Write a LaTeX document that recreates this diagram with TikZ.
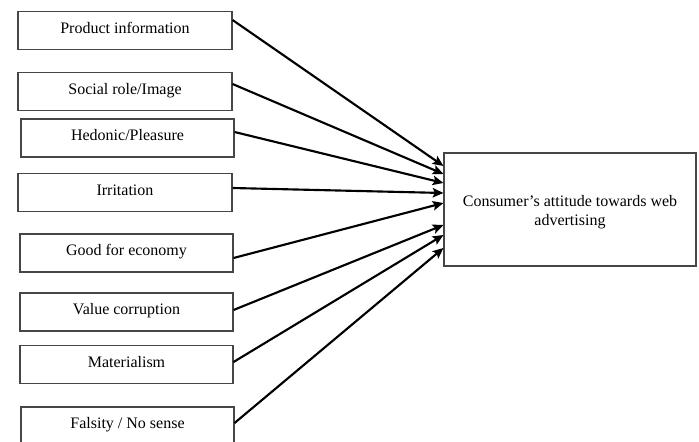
\documentclass[tikz,border=0pt]{standalone}
\usepackage{fontspec}
\setmainfont{Liberation Serif}
\usetikzlibrary{calc,arrows.meta}
\definecolor{boxline}{RGB}{70,70,70}
\tikzset{
  factor/.style={draw=boxline, line width=0.8pt, rectangle, inner sep=0pt,
    minimum width=160.5pt, minimum height=28pt,
    text height=8.6pt, text depth=4.8pt,
    font=\fontsize{12}{14}\selectfont},
  target/.style={draw=boxline, line width=0.8pt, rectangle, inner sep=0pt,
    minimum width=189pt, minimum height=84.75pt, align=center,
    font=\fontsize{12}{14.3}\selectfont},
  link/.style={line width=1.6pt, -{Stealth[length=8pt,width=7pt,inset=1.5pt]}}
}
\begin{document}
\begin{tikzpicture}[x=0.75pt,y=-0.75pt]
\useasboundingbox (0,0) rectangle (699,442);
\clip (0,0) rectangle (699,442);
\node[factor] (b1) at (125,30.5) {Product information};
\node[factor] (b2) at (125,91.5) {Social role/Image};
\node[factor,minimum width=159.75pt,minimum height=28.5pt] (b3) at (127.5,138) {Hedonic/Pleasure};
\node[factor] (b4) at (125,192.5) {Irritation};
\node[factor,minimum width=159.75pt,minimum height=28.5pt] (b5) at (126.5,253) {Good for economy};
\node[factor,minimum width=159.75pt,minimum height=28.5pt] (b6) at (126.5,312) {Value corruption};
\node[factor,minimum width=159.75pt] (b7) at (126.5,364.5) {Materialism};
\node[factor,minimum width=159.75pt,minimum height=28.5pt] (b8) at (127.5,426) {Falsity / No sense};
\node[target] (t) at (570,209.5) {};
\node[font=\fontsize{12}{14.3}\selectfont, align=center, inner sep=0pt] (tt) at (570,212) {Consumer’s attitude towards web\\advertising};
\draw[link] ($(b1.east)+(0,-10.5)$) -- ($(t.west)+(0,-43.5)$);
\draw[link] ($(b2.east)+(0,-7.5)$) -- ($(t.west)+(0,-35.5)$);
\draw[link] ($(b3.east)+(0,-6)$) -- ($(t.west)+(0,-26.5)$);
\draw[link] ($(b4.east)+(0,-4.5)$) -- ($(t.west)+(0,-16.5)$);
\draw[link] ($(b5.east)+(0,5)$) -- ($(t.west)+(0,-6.5)$);
\draw[link] ($(b6.east)+(0,-2)$) -- ($(t.west)+(0,15.5)$);
\draw[link] ($(b7.east)+(0,-2.5)$) -- ($(t.west)+(0,25.5)$);
\draw[link] ($(b8.east)+(0,-3)$) -- ($(t.west)+(0,38.5)$);
\end{tikzpicture}
\end{document}
